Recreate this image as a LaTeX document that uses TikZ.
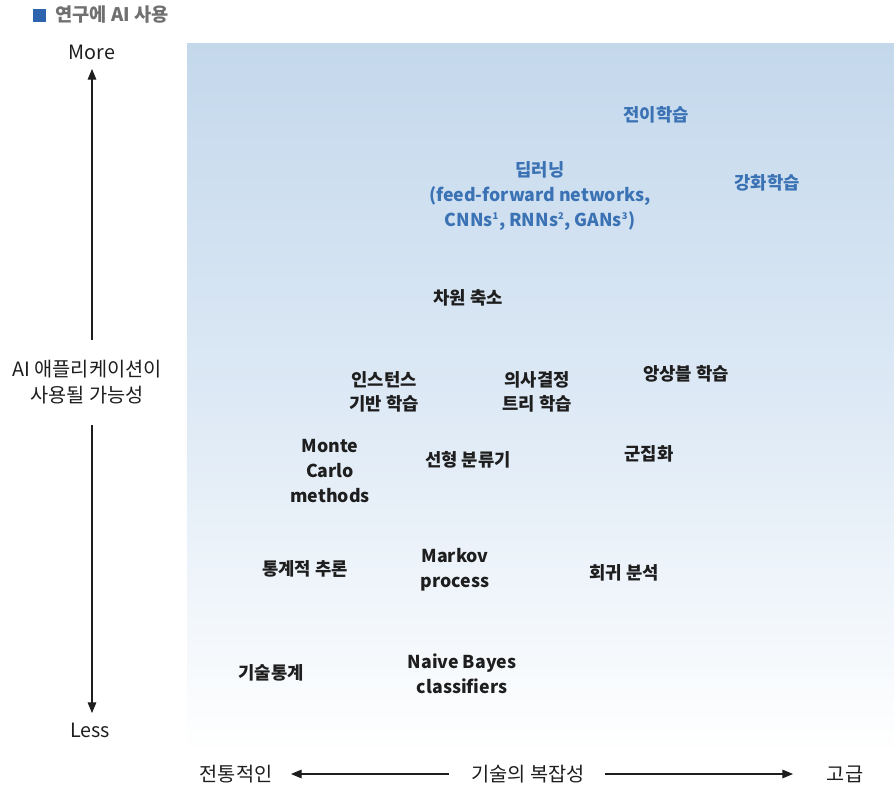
\documentclass[tikz,border=0pt]{standalone}
\usepackage{fontspec}
\setmainfont{Noto Sans CJK KR}
\usetikzlibrary{arrows.meta}
\definecolor{panelblue}{RGB}{196,216,236}
\definecolor{panelmid}{RGB}{221,233,245}
\definecolor{lblue}{RGB}{58,114,180}
\definecolor{sqblue}{RGB}{46,100,174}
\definecolor{titlegray}{RGB}{112,112,112}
\definecolor{txt}{RGB}{30,30,30}
\tikzset{
  lbl/.style={font=\fontsize{13.3}{18.5}\selectfont\bfseries, text=txt, align=center, inner sep=0pt},
  blbl/.style={lbl, text=lblue},
  axl/.style={font=\fontsize{14.8}{20}\selectfont, text=txt, align=center, inner sep=0pt},
  axarrow/.style={draw=txt, line width=0.8pt, -{Triangle[length=8pt,width=6.5pt]}},
}
\begin{document}
\begin{tikzpicture}[x=0.75pt,y=-0.75pt]
\useasboundingbox (0,0) rectangle (894,790);
% panel
\shade[top color=panelblue, bottom color=white, middle color=panelmid] (187,43) rectangle (894,755);
% title
\fill[sqblue] (33,9) rectangle (46,22);
\node[anchor=west, inner sep=0pt, text=titlegray, font=\fontsize{14}{16}\selectfont\bfseries] (title) at (55,15) {연구에 AI 사용};
% vertical axis
\node[axl] (more) at (92,52) {More};
\node[axl] (vlab) at (87,382) {AI 애플리케이션이\\사용될 가능성};
\node[axl] (less) at (90,730) {Less};
\coordinate (vtop) at (92,69);
\coordinate (vbot) at (92,713);
\draw[axarrow] (92,340) -- (vtop);
\draw[axarrow] (92,425) -- (vbot);
% horizontal axis
\node[axl] (trad) at (236,774) {전통적인};
\node[axl] (hlab) at (528,774) {기술의 복잡성};
\node[axl] (adv) at (845,774) {고급};
\coordinate (hl) at (291,774);
\coordinate (hr) at (793,774);
\draw[axarrow] (hlab.west) ++(-22,0) -- (hl);
\draw[axarrow] (hlab.east) ++(20,0) -- (hr);
% blue labels
\node[blbl] (transfer) at (656,115) {전이학습};
\node[blbl] (deep) at (540,196) {딥러닝\\(feed-forward networks,\\CNNs\textsuperscript{\scriptsize 1}, RNNs\textsuperscript{\scriptsize 2}, GANs\textsuperscript{\scriptsize 3})};
\node[blbl] (rl) at (767,183) {강화학습};
% black labels
\node[lbl] (dimred) at (468,298) {차원 축소};
\node[lbl] (inst) at (384,392) {인스턴스\\기반 학습};
\node[lbl] (tree) at (537,392) {의사결정\\트리 학습};
\node[lbl] (ens) at (686,374) {앙상블 학습};
\node[lbl] (mc) at (330,471) {Monte\\Carlo\\methods};
\node[lbl] (lin) at (468,460) {선형 분류기};
\node[lbl] (clus) at (649,454) {군집화};
\node[lbl] (stat) at (305,569) {통계적 추론};
\node[lbl] (markov) at (455,570) {Markov\\process};
\node[lbl] (reg) at (624,573) {회귀 분석};
\node[lbl] (desc) at (271,673) {기술통계};
\node[lbl] (nb) at (462,674) {Naive Bayes\\classifiers};
\end{tikzpicture}
\end{document}
